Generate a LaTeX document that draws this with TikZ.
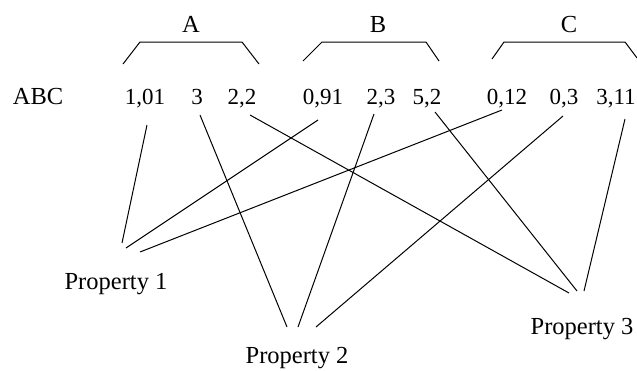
\documentclass[tikz,border=0pt]{standalone}
\usepackage{fontspec}
\setmainfont{Liberation Serif}
\begin{document}
\begin{tikzpicture}[x=1pt,y=-1pt,
  lbl/.style={anchor=base,inner sep=0pt,font=\fontsize{23}{23}\selectfont},
  word/.style={anchor=base,inner sep=0pt,font=\fontsize{24.5}{24.5}\selectfont},
  link/.style={line width=1pt,black},
  brk/.style={line width=1pt,black}]
\useasboundingbox (0,0) rectangle (637,370);
% group labels
\node[word] (A) at (191,32) {A};
\node[word] (B) at (378,32) {B};
\node[word] (C) at (569,32) {C};
% brackets
\draw[brk] (123,64) -- (140,42) -- (242,42) -- (259,64);
\draw[brk] (303,61) -- (322,42) -- (426,42) -- (439,61);
\draw[brk] (492,59) -- (504,42) -- (625,42) -- (637,58);
% row
\node[word] (abc) at (38,104) {ABC};
\node[lbl] (n101) at (145,104) {1,01};
\node[lbl] (n3) at (197,104) {3};
\node[lbl] (n22) at (242,104) {2,2};
\node[lbl] (n091) at (323,104) {0,91};
\node[lbl] (n23) at (381,104) {2,3};
\node[lbl] (n52) at (427,104) {5,2};
\node[lbl] (n012) at (507,104) {0,12};
\node[lbl] (n03) at (564,104) {0,3};
\node[lbl] (n311) at (616,104) {3,11};
% properties
\node[word] (p1) at (116,289) {Property 1};
\node[word] (p2) at (297,363) {Property 2};
\node[word] (p3) at (582,334) {Property 3};
% connector ends
\coordinate (t101) at (147,125);
\coordinate (t3) at (200,115);
\coordinate (t22) at (250,115);
\coordinate (t091) at (318,120);
\coordinate (t23) at (374,114);
\coordinate (t52) at (435,112);
\coordinate (t012) at (502,110);
\coordinate (t03) at (563,116);
\coordinate (t311) at (625,119);
\coordinate (a1) at (122,243);
\coordinate (b1) at (126,248);
\coordinate (c1) at (140,252);
\coordinate (a2) at (287,327);
\coordinate (b2) at (298,327);
\coordinate (c2) at (316,327);
\coordinate (a3) at (569,293);
\coordinate (b3) at (577,291);
\coordinate (c3) at (584,291);
% connectors
\draw[link] (t101) -- (a1);
\draw[link] (t091) -- (b1);
\draw[link] (t012) -- (c1);
\draw[link] (t3) -- (a2);
\draw[link] (t23) -- (b2);
\draw[link] (t03) -- (c2);
\draw[link] (t22) -- (a3);
\draw[link] (t52) -- (b3);
\draw[link] (t311) -- (c3);
\end{tikzpicture}
\end{document}
